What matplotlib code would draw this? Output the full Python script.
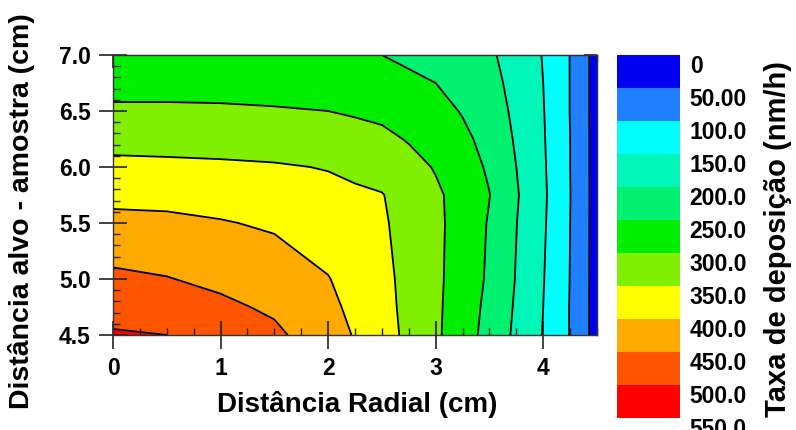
import numpy as np
import matplotlib
matplotlib.use("Agg")
import matplotlib.pyplot as plt
from matplotlib.ticker import MultipleLocator, FormatStrFormatter

plt.rcParams['font.family'] = ['Liberation Sans', 'DejaVu Sans']
plt.rcParams['font.weight'] = 'bold'

# Radial distance (cm) and target-sample distance (cm)
radial = [0.0, 0.5, 1.0, 1.5, 2.0, 2.25, 2.5, 2.75, 3.0, 3.25, 3.5, 4.0, 4.25, 4.5]
distance = [4.5, 4.75, 5.0, 5.5, 5.75, 6.0, 6.25, 6.5, 6.75, 7.0]

# Deposition rate (nm/h), one row per target-sample distance
rate_450 = [505, 500, 485, 460, 420, 397, 370, 339, 308, 272, 233, 148, 98, 30]
rate_475 = [482, 476, 460, 442, 411, 389, 366, 337, 309, 274, 238, 150, 98, 30]
rate_500 = [460, 452, 439, 425, 402, 381, 363, 336, 310, 277, 243, 152, 99, 30]
rate_550 = [412, 410, 403, 394, 375, 366, 356, 333, 310, 281, 246, 156, 100, 30]
rate_575 = [388, 386, 381, 374, 361, 357, 352, 330, 307, 284, 251, 158, 101, 30]
rate_600 = [361, 359, 357, 354, 348, 340, 331, 314, 297, 270, 244, 156, 100, 30]
rate_625 = [335, 334, 332, 329, 323, 317, 310, 297, 282, 260, 235, 154, 100, 30]
rate_650 = [308, 308, 307, 304, 300, 295, 290, 278, 266, 247, 226, 152, 99, 30]
rate_675 = [283, 283, 282, 280, 277, 273, 270, 259, 250, 234, 217, 150, 99, 30]
rate_700 = [258, 258, 257, 256, 254, 252, 250, 241, 234, 222, 208, 148, 99, 30]

levels = [0, 50, 100, 150, 200, 250, 300, 350, 400, 450, 500, 550]
level_labels = ['0', '50.00', '100.0', '150.0', '200.0', '250.0', '300.0',
                '350.0', '400.0', '450.0', '500.0', '550.0']
band_colors = ['#0000f0', '#1e80ff', '#00ffff', '#00f5b8', '#00f070', '#00ee00',
               '#80f000', '#ffff00', '#ffaa00', '#ff5500', '#ff0000']

Z = np.array([rate_450, rate_475, rate_500, rate_550, rate_575, rate_600,
              rate_625, rate_650, rate_675, rate_700])

W, H = 796, 430
fig = plt.figure(figsize=(W / 100, H / 100), dpi=100)
ax = fig.add_axes([113 / W, 1 - 335 / H, (597 - 113) / W, (335 - 55) / H])

cf = ax.contourf(radial, distance, Z, levels=levels, colors=band_colors)
ax.contour(radial, distance, Z, levels=levels[1:-1], colors='k', linewidths=1.3)

ax.set_xlim(0, 4.5)
ax.set_ylim(4.5, 7.0)

ax.xaxis.set_major_locator(MultipleLocator(1))
ax.xaxis.set_minor_locator(MultipleLocator(0.25))
ax.yaxis.set_major_locator(MultipleLocator(0.5))
ax.yaxis.set_minor_locator(MultipleLocator(0.1))
ax.yaxis.set_major_formatter(FormatStrFormatter('%.1f'))
ax.xaxis.set_major_formatter(FormatStrFormatter('%d'))

ax.tick_params(which='major', direction='inout', length=20, width=1.2,
               labelsize=16.5, pad=6, top=False, right=False, color='#222222')
ax.tick_params(which='minor', direction='in', length=5, width=1.0,
               top=False, right=False, color='#222222')
for lab in ax.get_xticklabels() + ax.get_yticklabels():
    lab.set_fontweight('bold')

for s in ax.spines.values():
    s.set_color('#333333')
    s.set_linewidth(1.0)

secx = ax.secondary_xaxis('top')
secx.xaxis.set_major_locator(MultipleLocator(1))
secx.xaxis.set_minor_locator(MultipleLocator(0.25))
secx.tick_params(which='major', direction='in', length=9.5, width=1.2, labeltop=False, color='#222222')
secx.tick_params(which='minor', direction='in', length=5, width=1.0, color='#222222')
secx.spines['top'].set_color('#333333')

secy = ax.secondary_yaxis('right')
secy.yaxis.set_major_locator(MultipleLocator(0.5))
secy.yaxis.set_minor_locator(MultipleLocator(0.1))
secy.tick_params(which='major', direction='in', length=9.5, width=1.2, labelright=False, color='#222222')
secy.tick_params(which='minor', direction='in', length=5, width=1.0, color='#222222')
secy.spines['right'].set_color('#333333')

fig.text(357 / W, 1 - 405 / H, 'Distância Radial (cm)', ha='center', va='center',
         fontsize=20, fontweight='bold')
fig.text(22 / W, 1 - 211 / H, 'Distância alvo - amostra (cm)', ha='center', va='center',
         rotation=90, fontsize=20.5, fontweight='bold')

cax = fig.add_axes([617 / W, 1 - 418 / H, (680 - 617) / W, (418 - 55) / H])
cbar = fig.colorbar(cf, cax=cax)
cbar.outline.set_visible(False)
cax.set_yticks(levels, level_labels, fontsize=16.5, fontweight='bold', va='top')
cax.invert_yaxis()
cax.tick_params(length=0, pad=7)

fig.text(778 / W, 1 - 239 / H, 'Taxa de deposição (nm/h)', ha='center', va='center',
         rotation=90, fontsize=21, fontweight='bold')

fig.savefig('out.png', dpi=100)
